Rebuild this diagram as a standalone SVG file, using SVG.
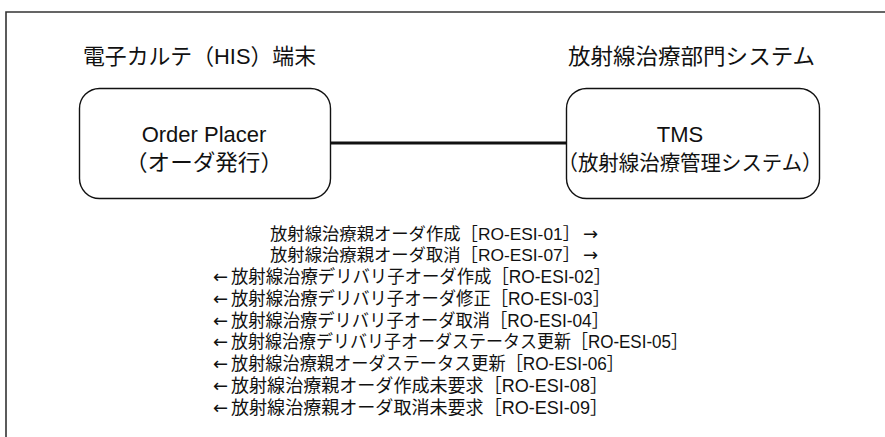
<svg xmlns="http://www.w3.org/2000/svg" width="885" height="437" viewBox="0 0 885 437">
<style>
text{font-family:"Liberation Sans","Noto Sans CJK JP",sans-serif;fill:#111;}
.t{font-size:22px;}
.b{font-size:22px;text-anchor:middle;}
.m{font-size:18px;}
.m2{font-size:17px;}
.ar{font-size:18px;font-family:"DejaVu Sans",sans-serif;}
.box{fill:#fff;stroke:#111;stroke-width:1.4;}
.frame{fill:none;stroke:#333;stroke-width:1.6;}
.conn{stroke:#111;stroke-width:3;fill:none;}
</style>
<rect width="885" height="437" fill="#fff"/>
<path class="frame" d="M6,437 V12 H885"/>
<g id="title-left"><text class="t" x="83" y="64" textLength="233" lengthAdjust="spacingAndGlyphs">電子カルテ（HIS）端末</text></g>
<g id="title-right"><text class="t" x="568" y="64" textLength="247" lengthAdjust="spacingAndGlyphs">放射線治療部門システム</text></g>
<g id="connectors"><line class="conn" x1="331" y1="143" x2="566" y2="143"/></g>
<g id="order-placer">
<rect class="box" x="79.5" y="88.5" width="251" height="110" rx="20"/>
<text class="b" x="204" y="142">Order Placer</text>
<text class="b" x="204" y="170" textLength="158" lengthAdjust="spacingAndGlyphs">（オーダ発行）</text>
</g>
<g id="tms">
<rect class="box" x="566.5" y="88.5" width="253" height="110" rx="20"/>
<text class="b" x="680" y="142">TMS</text>
<text class="b" x="690" y="170" style="font-size:21px" textLength="265" lengthAdjust="spacingAndGlyphs">（放射線治療管理システム）</text>
</g>
<g id="messages">
<text class="m2" x="270" y="239.5" textLength="310" lengthAdjust="spacingAndGlyphs">放射線治療親オーダ作成［RO-ESI-01］</text>
<text class="ar" x="583" y="239.5">→</text>
<text class="m2" x="270" y="261.2" textLength="310" lengthAdjust="spacingAndGlyphs">放射線治療親オーダ取消［RO-ESI-07］</text>
<text class="ar" x="583" y="261.2">→</text>
<text class="ar" x="213" y="283">←</text>
<text class="m" x="231" y="283" textLength="380" lengthAdjust="spacingAndGlyphs">放射線治療デリバリ子オーダ作成［RO-ESI-02］</text>
<text class="ar" x="213" y="304.7">←</text>
<text class="m" x="231" y="304.7" textLength="379" lengthAdjust="spacingAndGlyphs">放射線治療デリバリ子オーダ修正［RO-ESI-03］</text>
<text class="ar" x="213" y="326.5">←</text>
<text class="m" x="231" y="326.5" textLength="378" lengthAdjust="spacingAndGlyphs">放射線治療デリバリ子オーダ取消［RO-ESI-04］</text>
<text class="ar" x="213" y="348.2">←</text>
<text class="m" x="231" y="348.2" textLength="457" lengthAdjust="spacingAndGlyphs">放射線治療デリバリ子オーダステータス更新［RO-ESI-05］</text>
<text class="ar" x="213" y="370">←</text>
<text class="m" x="231" y="370" textLength="393" lengthAdjust="spacingAndGlyphs">放射線治療親オーダステータス更新［RO-ESI-06］</text>
<text class="ar" x="213" y="391.7">←</text>
<text class="m" x="231" y="391.7" textLength="377" lengthAdjust="spacingAndGlyphs">放射線治療親オーダ作成未要求［RO-ESI-08］</text>
<text class="ar" x="213" y="413.5">←</text>
<text class="m" x="231" y="413.5" textLength="377" lengthAdjust="spacingAndGlyphs">放射線治療親オーダ取消未要求［RO-ESI-09］</text>
</g>
</svg>
